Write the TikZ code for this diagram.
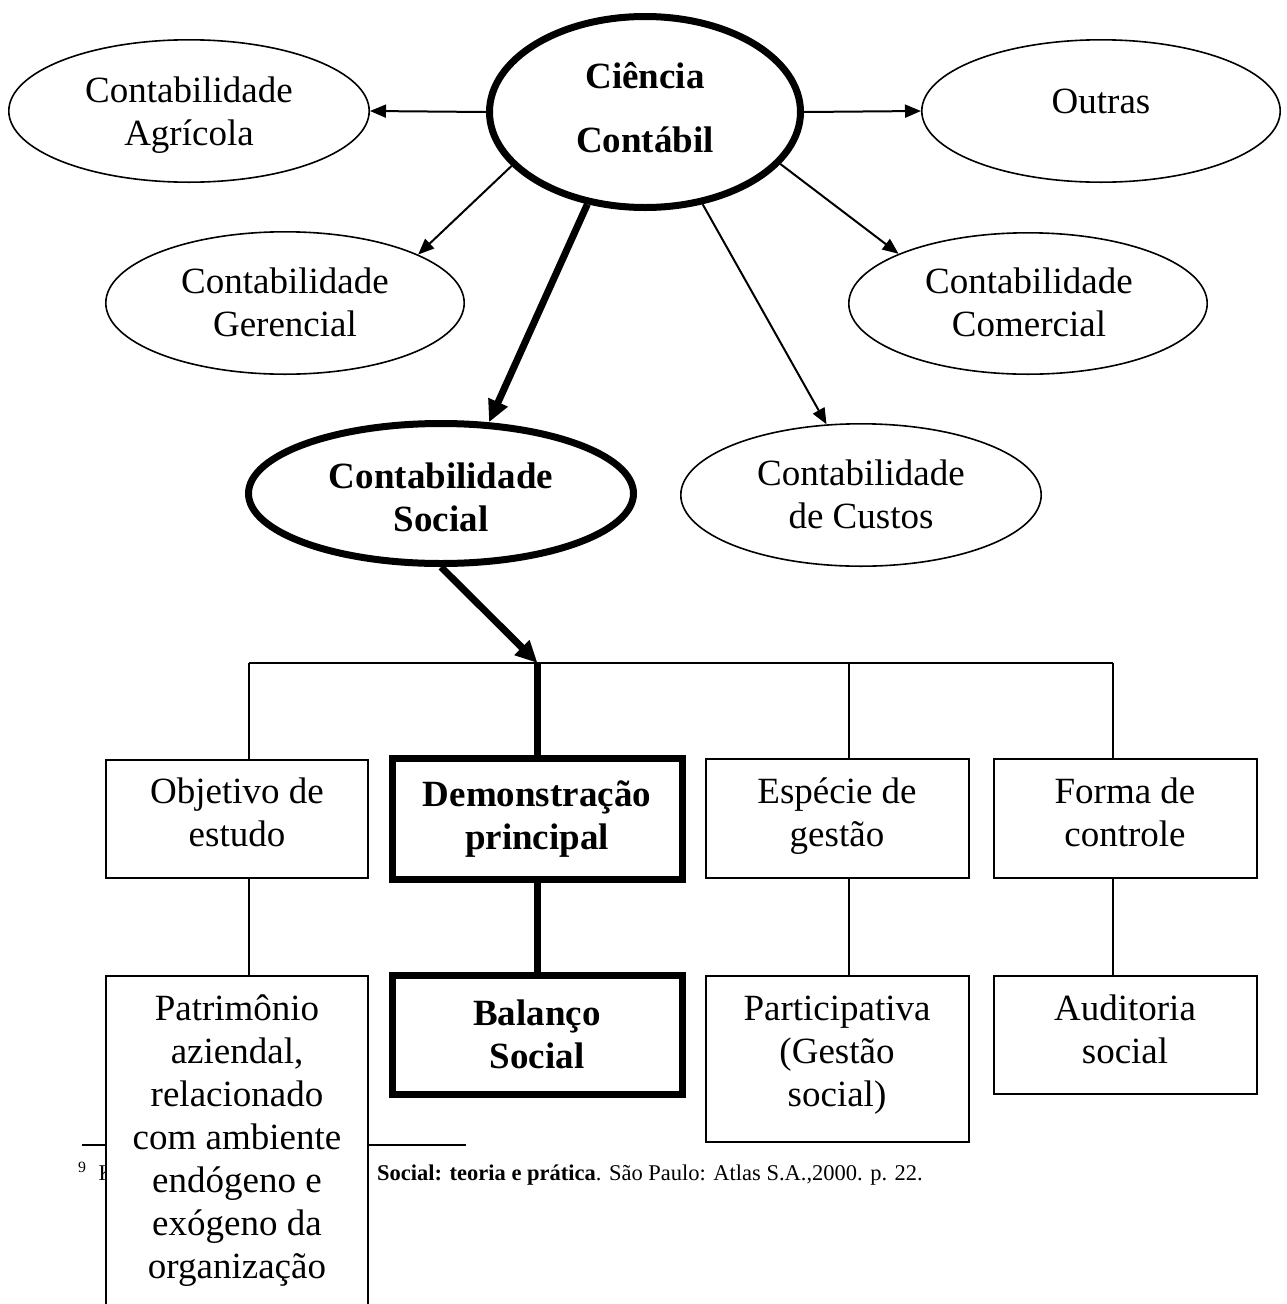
\documentclass[tikz,border=0pt]{standalone}
\usepackage{fontspec}
\setmainfont{Liberation Serif}
\usetikzlibrary{shapes.geometric,arrows.meta}
\newcommand\stt{\rule[-13pt]{0pt}{43pt}}
\begin{document}
\begin{tikzpicture}[x=1pt,y=-1pt,
  ell/.style={draw, ellipse, line width=1.6pt, inner sep=0pt},
  thickell/.style={draw, ellipse, line width=7pt, inner sep=0pt},
  txt/.style={font=\fontsize{37}{43}\selectfont, align=center, inner sep=0pt},
  btxt/.style={txt, font=\fontsize{37}{43}\selectfont\bfseries},
  fn/.style={font=\fontsize{22.5}{26}\selectfont, inner sep=0pt},
  box/.style={draw, rectangle, line width=1.8pt, inner sep=0pt, fill=white},
  thickbox/.style={draw, rectangle, line width=7pt, inner sep=0pt, fill=white},
  thinarr/.style={line width=2pt, -{Triangle[length=16pt,width=13pt]}},
  thickarr/.style={line width=7pt, -{Triangle[length=22pt,width=20pt]}},
  tree/.style={line width=1.6pt},
  thicktree/.style={line width=7pt},
]
\useasboundingbox (0,0) rectangle (1287,1304);

% ---------- ellipses ----------
\node[thickell, minimum width=311pt, minimum height=191pt] (cc) at (645,112) {};
\node[ell, minimum width=360.4pt, minimum height=142.4pt] (agr) at (189,111) {};
\node[ell, minimum width=358.4pt, minimum height=142.4pt] (out) at (1101,111) {};
\node[ell, minimum width=358.4pt, minimum height=142.4pt] (ger) at (285,303) {};
\node[ell, minimum width=358.4pt, minimum height=141.4pt] (com) at (1028,303.5) {};
\node[thickell, minimum width=385pt, minimum height=140pt] (soc) at (441,493.5) {};
\node[ell, minimum width=360.4pt, minimum height=142.4pt] (cus) at (861,495) {};

\node[btxt, font=\fontsize{37}{64}\selectfont\bfseries] (ccT) at (645,111.5) {\stt Ciência\\\stt Contábil};
\node[txt] (agrT) at (189,115) {\stt Contabilidade\\\stt Agrícola};
\node[txt] (outT) at (1101,104.5) {\stt Outras};
\node[txt] (gerT) at (285,306.5) {\stt Contabilidade\\\stt Gerencial};
\node[txt] (comT) at (1029,306.5) {\stt Contabilidade\\\stt Comercial};
\node[btxt] (socT) at (441,501.5) {\stt Contabilidade\\\stt Social};
\node[txt] (cusT) at (861,498) {\stt Contabilidade\\\stt de Custos};

% ---------- arrows ----------
\draw[thinarr] (cc.west) -- (agr.east);
\draw[thinarr] (cc.east) -- (out.west);
\draw[thinarr] (cc.202) -- (ger.20.6);
\draw[thinarr] (cc.339.6) -- (com.159.1);
\draw[thickarr] (cc.238) -- (soc.56.7);
\draw[thinarr] (cc.302.9) -- (cus.116.9);

% ---------- tree ----------
\coordinate (tl) at (249,663);
\coordinate (tm) at (537.5,663);
\coordinate (tr1) at (849,663);
\coordinate (tr2) at (1113,663);
\draw[thickarr] (soc.south) -- (tm);

% ---------- footnote (behind the tall box) ----------
\coordinate (fnA) at (82,1145);
\coordinate (fnB) at (466,1145);
\draw[line width=1.4pt] (fnA) -- (fnB);
\node[fn, anchor=base west] (fn9) at (78,1180) {\textsuperscript{9}\hspace{12pt}K};
\node[fn, anchor=base west] (fnT) at (377,1180) {\textbf{Social: teoria e prática}. São Paulo: Atlas S.A.,2000. p. 22.};

% ---------- boxes ----------
\node[box, minimum width=262pt, minimum height=118pt] (obj) at (237,819) {};
\node[thickbox, minimum width=290pt, minimum height=121pt] (dem) at (537.5,819) {};
\node[box, minimum width=263pt, minimum height=119pt] (esp) at (837.5,818.5) {};
\node[box, minimum width=263pt, minimum height=119pt] (for) at (1125.5,818.5) {};
\node[box, minimum width=262pt, minimum height=424pt] (pat) at (237,1188) {};
\node[thickbox, minimum width=290pt, minimum height=119.6pt] (bal) at (537.5,1035) {};
\node[box, minimum width=263pt, minimum height=165.8pt] (par) at (837.5,1058.9) {};
\node[box, minimum width=263pt, minimum height=118pt] (aud) at (1125.5,1035) {};

\draw[tree] (tl) -- (tr2);
\draw[tree] (tl) -- (tl |- obj.north);
\draw[tree] (tl |- obj.south) -- (tl |- pat.north);
\draw[tree] (tr1) -- (tr1 |- esp.north);
\draw[tree] (tr1 |- esp.south) -- (tr1 |- par.north);
\draw[tree] (tr2) -- (tr2 |- for.north);
\draw[tree] (tr2 |- for.south) -- (tr2 |- aud.north);
\draw[thicktree] (tm) -- (tm |- dem.north);
\draw[thicktree] (tm |- dem.south) -- (tm |- bal.north);

\node[txt] (objT) at (237,816) {\stt Objetivo de\\\stt estudo};
\node[btxt] (demT) at (537,819.8) {\stt Demonstração\\\stt principal};
\node[txt] (espT) at (837,816.5) {\stt Espécie de\\\stt gestão};
\node[txt] (forT) at (1125,816.5) {\stt Forma de\\\stt controle};
\node[txt] (patT) at (237,1140.5) {\stt Patrimônio\\\stt aziendal,\\\stt relacionado\\\stt com ambiente\\\stt endógeno e\\\stt exógeno da\\\stt organização};
\node[btxt] (balT) at (537,1038.2) {\stt Balanço\\\stt Social};
\node[txt] (parT) at (837,1054.5) {\stt Participativa\\\stt (Gestão\\\stt social)};
\node[txt] (audT) at (1125,1033) {\stt Auditoria\\\stt social};
\end{tikzpicture}
\end{document}
